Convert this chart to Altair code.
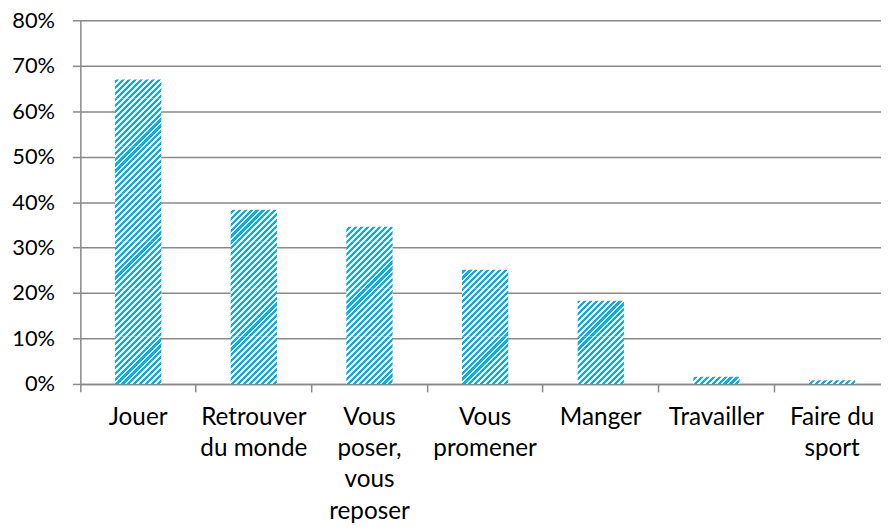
import altair as alt
import pandas as pd

# ---- data ----
categories = ["Jouer", "Retrouver du monde", "Vous poser, vous reposer",
              "Vous promener", "Manger", "Travailler", "Faire du sport"]
label_lines = [["Jouer"], ["Retrouver", "du monde"], ["Vous", "poser,", "vous", "reposer"],
               ["Vous", "promener"], ["Manger"], ["Travailler"], ["Faire du", "sport"]]
values = [0.67, 0.383, 0.346, 0.251, 0.183, 0.016, 0.008]
y_ticks = [0.0, 0.1, 0.2, 0.3, 0.4, 0.5, 0.6, 0.7, 0.8]

# ---- layout / style ----
PLOT_W = 808
RANGE_W = 817
PLOT_H = 367
Y_MAX = 0.8
BAND = RANGE_W / len(categories)
BAR_W = 0.4 * BAND
BLUE = "#00B0F0"
GRAY = "#898989"
PERIOD = 6.0
BLUE_FRAC = 0.52
SEG = 48  # hatch tiles (px) so the gradient ramp stays sharp
FONT = "Lato"
FS_X = 24.5
FS_Y = 22


def to_px(v):
    return v / Y_MAX * PLOT_H


def to_val(d):
    return d / PLOT_H * Y_MAX


def stripe_gradient(w, H, d_top):
    H = max(H, 0.05)
    L = w + H
    phi = d_top % PERIOD
    stops = []
    k = -1
    while True:
        start = phi + k * PERIOD
        if start >= L:
            break
        mid = start + BLUE_FRAC * PERIOD
        for a, b, col in ((start, mid, BLUE), (mid, start + PERIOD, "#ffffff")):
            a2, b2 = max(a, 0.0), min(b, L)
            if b2 > a2:
                stops += [(a2 / L, col), (b2 / L, col)]
        k += 1
    s = L / (w * w + H * H)
    return {"gradient": "linear", "x1": 0, "y1": 0, "x2": w * s, "y2": H * s,
            "stops": [{"offset": round(o, 6), "color": col} for o, col in stops]}


expr = "datum.label"
for c, lines in reversed(list(zip(categories, label_lines))):
    arr = "[" + ",".join("'" + l + "'" for l in lines) + "]"
    expr = "datum.label === '" + c + "' ? " + arr + " : (" + expr + ")"

full_rows, top_rows = [], []
for c, v in zip(categories, values):
    h = to_px(v)
    m = int(h // SEG)
    for k in range(m):
        full_rows.append({"cat": c, "lo": to_val(k * SEG), "hi": to_val((k + 1) * SEG)})
    top_rows.append({"cat": c, "lo": to_val(m * SEG), "hi": v, "H": h - m * SEG, "d": h})

xenc = alt.X("cat:N", sort=categories,
             scale=alt.Scale(domain=categories, range=[0, RANGE_W], paddingInner=0, paddingOuter=0),
             axis=alt.Axis(title=None, bandPosition=0, ticks=True, tickSize=8, tickColor=GRAY,
                           tickWidth=1.5, domainColor=GRAY, domainWidth=1.5, labelAngle=0,
                           labelFont=FONT, labelFontSize=FS_X, labelColor="#000000",
                           labelPadding=14, labelLineHeight=31.5, labelExpr=expr,
                           labelBaseline="top", labelOverlap=False, grid=False))
yenc = alt.Y("hi:Q", scale=alt.Scale(domain=[0, Y_MAX], nice=False),
             axis=alt.Axis(title=None, values=y_ticks, format=".0%", grid=True, gridColor=GRAY,
                           gridWidth=1.5, domainColor=GRAY, domainWidth=1.5, tickSize=8,
                           tickColor=GRAY, tickWidth=1.5, labelFont=FONT, labelFontSize=FS_Y,
                           labelColor="#000000", labelPadding=18))
y2enc = alt.Y2("lo:Q")

layers = [
    alt.Chart(pd.DataFrame(full_rows))
    .mark_bar(width=alt.RelativeBandSize(0.4), fill=stripe_gradient(BAR_W, SEG, SEG))
    .encode(x=xenc, y=yenc, y2=y2enc)
]
for r in top_rows:
    layers.append(
        alt.Chart(pd.DataFrame([r]))
        .mark_bar(width=alt.RelativeBandSize(0.4), fill=stripe_gradient(BAR_W, r["H"], r["d"]))
        .encode(x=xenc, y=yenc, y2=y2enc)
    )

chart = alt.layer(*layers).properties(
    width=PLOT_W, height=PLOT_H,
    autosize=alt.AutoSizeParams(type="none"),
    padding={"left": 73, "top": 10, "right": 0, "bottom": 145},
    background="white",
).configure_view(stroke=None)

chart.save("out.html", embed_options={"renderer": "svg", "actions": False})
